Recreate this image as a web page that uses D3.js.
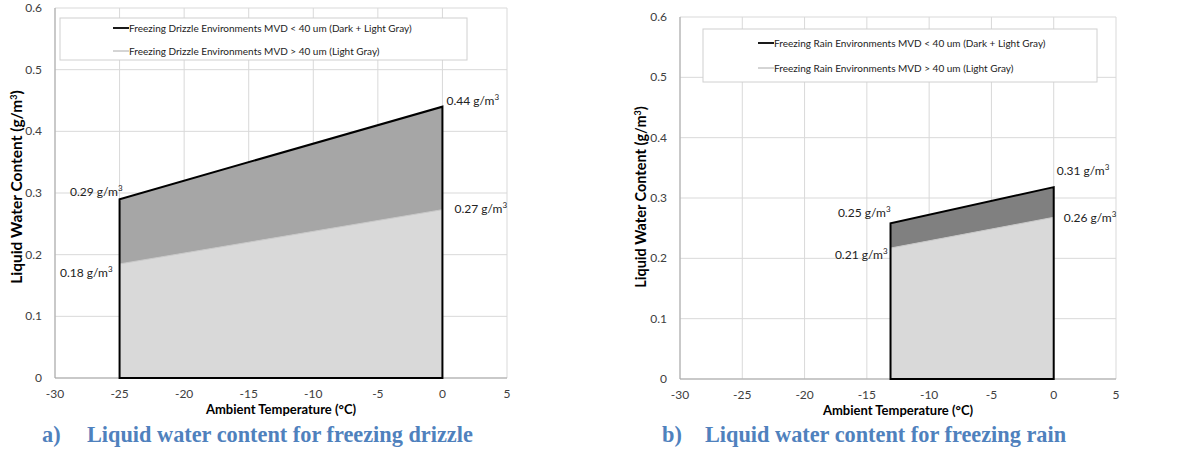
<!DOCTYPE html>
<html>
<head>
<meta charset="utf-8">
<script src="https://cdn.jsdelivr.net/npm/d3@7"></script>
<style>
  body { margin: 0; background: #fff; }
  svg { display: block; }
</style>
</head>
<body>
<div id="chart"></div>
<script>
// Axis ticks (shared by both panels)
var xTicks = [-30, -25, -20, -15, -10, -5, 0, 5];
var yTicks = [0, 0.1, 0.2, 0.3, 0.4, 0.5, 0.6];

// a) freezing drizzle
var drizzleTemp = [-25, 0];
var drizzleTotal = [0.29, 0.44];   // MVD < 40 um (dark + light)
var drizzleLarge = [0.185, 0.273]; // MVD > 40 um (light)
var drizzleLabels = ['0.29', '0.44', '0.18', '0.27'];
var drizzleLegend = ['Freezing Drizzle Environments MVD < 40 um (Dark + Light Gray)',
                     'Freezing Drizzle Environments MVD > 40 um (Light Gray)'];

// b) freezing rain
var rainTemp = [-13.1, 0];
var rainTotal = [0.258, 0.318];
var rainLarge = [0.217, 0.268];
var rainLabels = ['0.25', '0.31', '0.21', '0.26'];
var rainLegend = ['Freezing Rain Environments MVD < 40 um (Dark + Light Gray)',
                  'Freezing Rain Environments MVD > 40 um (Light Gray)'];

var svg = d3.select('#chart').append('svg')
    .attr('width', 1182)
    .attr('height', 449);

var font = 'Lato, "Open Sans", sans-serif';

function drawPanel(p) {
  var x = d3.scaleLinear().domain([-30, 5]).range(p.xRange);
  var y = d3.scaleLinear().domain([0, 0.6]).range(p.yRange);
  var g = svg.append('g');

  // gridlines
  g.selectAll('.vgrid').data(xTicks).enter().append('line')
      .attr('x1', function(d) { return x(d); })
      .attr('x2', function(d) { return x(d); })
      .attr('y1', y(0)).attr('y2', y(0.6))
      .style('stroke', '#d9d9d9').style('stroke-width', 1);
  g.selectAll('.hgrid').data(yTicks).enter().append('line')
      .attr('x1', x(-30)).attr('x2', x(5))
      .attr('y1', function(d) { return y(d); })
      .attr('y2', function(d) { return y(d); })
      .style('stroke', '#d9d9d9').style('stroke-width', 1);
  g.append('line').attr('x1', x(-30)).attr('x2', x(-30))
      .attr('y1', y(0)).attr('y2', y(0.6)).style('stroke', '#a6a6a6');
  g.append('line').attr('x1', x(-30)).attr('x2', x(5))
      .attr('y1', y(0)).attr('y2', y(0)).style('stroke', '#a6a6a6');

  // areas
  var idx = [0, 1];
  var light = d3.area()
      .x(function(i) { return x(p.temp[i]); })
      .y0(y(0))
      .y1(function(i) { return y(p.large[i]); });
  var dark = d3.area()
      .x(function(i) { return x(p.temp[i]); })
      .y0(function(i) { return y(p.large[i]); })
      .y1(function(i) { return y(p.total[i]); });
  g.append('path').attr('d', light(idx)).style('fill', '#d9d9d9');
  g.append('path').attr('d', dark(idx)).style('fill', p.darkFill);
  g.append('path')
      .attr('d', d3.line().x(function(i) { return x(p.temp[i]); })
                          .y(function(i) { return y(p.large[i]); })(idx))
      .style('fill', 'none').style('stroke', '#c8c8c8').style('stroke-width', 1);

  // black outline
  var outline = [[p.temp[0], 0], [p.temp[0], p.total[0]], [p.temp[1], p.total[1]], [p.temp[1], 0]];
  g.append('path')
      .attr('d', d3.line().x(function(d) { return x(d[0]); }).y(function(d) { return y(d[1]); })(outline) + 'Z')
      .style('fill', 'none').style('stroke', '#000').style('stroke-width', 2);

  // tick labels
  g.selectAll('.xt').data(xTicks).enter().append('text')
      .attr('x', function(d) { return x(d); })
      .attr('y', y(0) + 20)
      .attr('text-anchor', 'middle')
      .style('font-family', font).style('font-size', '12px').style('fill', '#404040')
      .text(function(d) { return d; });
  g.selectAll('.yt').data(yTicks).enter().append('text')
      .attr('x', x(-30) - 13)
      .attr('y', function(d) { return y(d) + 4; })
      .attr('text-anchor', 'end')
      .style('font-family', font).style('font-size', '12px').style('fill', '#404040')
      .text(function(d) { return d; });

  // axis titles
  g.append('text')
      .attr('x', p.xTitle[0]).attr('y', p.xTitle[1])
      .attr('text-anchor', 'middle')
      .style('font-family', font).style('font-size', '13px').style('font-weight', 'bold')
      .text('Ambient Temperature (°C)');
  var yt = g.append('text')
      .attr('transform', 'translate(' + p.yTitle[0] + ',' + p.yTitle[1] + ') rotate(-90)')
      .attr('text-anchor', 'middle')
      .style('font-family', font).style('font-size', p.yTitle[2] + 'px').style('font-weight', 'bold');
  yt.append('tspan').text('Liquid Water Content (g/m');
  yt.append('tspan').attr('dy', -5).style('font-size', '9px').text('3');
  yt.append('tspan').attr('dy', 5).text(')');

  // value labels: [temp index, value array, offset]
  var labelPos = [
    [0, p.total, p.labelOff[0]],
    [1, p.total, p.labelOff[1]],
    [0, p.large, p.labelOff[2]],
    [1, p.large, p.labelOff[3]]
  ];
  labelPos.forEach(function(l, k) {
    var t = g.append('text')
        .attr('x', x(p.temp[l[0]]) + l[2][0])
        .attr('y', y(l[1][l[0]]) + l[2][1])
        .attr('text-anchor', l[0] === 0 ? 'end' : 'start')
        .style('font-family', font).style('font-size', '12px').style('fill', '#222');
    t.append('tspan').text(p.labels[k] + ' g/m');
    t.append('tspan').attr('dy', -5).style('font-size', '8px').text('3');
  });

  // legend
  var lg = g.append('g');
  lg.append('rect')
      .attr('x', p.legend[0]).attr('y', p.legend[1])
      .attr('width', p.legend[2]).attr('height', p.legend[3])
      .style('fill', '#fff').style('stroke', '#d0d0d0');
  var rows = [[p.legendText[0], '#000', 1.8], [p.legendText[1], '#aaa', 1]];
  rows.forEach(function(r, k) {
    var ly = p.legend[1] + p.legendRows[k];
    lg.append('line')
        .attr('x1', p.legendX).attr('x2', p.legendX + 16)
        .attr('y1', ly).attr('y2', ly)
        .style('stroke', r[1]).style('stroke-width', r[2]);
    lg.append('text')
        .attr('x', p.legendX + 16).attr('y', ly + 3.5)
        .style('font-family', font).style('font-size', '10px').style('fill', '#222')
        .text(r[0]);
  });

  // caption
  var cap = svg.append('g')
      .style('font-family', '"Liberation Serif", "Times New Roman", serif')
      .style('font-size', '22.3px').style('font-weight', 'bold').style('fill', '#4f81bd');
  cap.append('text').attr('x', p.caption[0]).attr('y', 442).text(p.captionText[0]);
  cap.append('text').attr('x', p.caption[1]).attr('y', 442).text(p.captionText[1]);
}

drawPanel({
  xRange: [55, 507], yRange: [378, 8],
  temp: drizzleTemp, total: drizzleTotal, large: drizzleLarge,
  labels: drizzleLabels, darkFill: '#a6a6a6',
  labelOff: [[3, -3], [4, -2], [-7, 13], [12, 3]],
  xTitle: [281, 414], yTitle: [22, 187, 15.5],
  legend: [60, 18, 407, 42], legendRows: [10, 33], legendX: 113, legendText: drizzleLegend,
  caption: [42, 87], captionText: ['a)', 'Liquid water content for freezing drizzle']
});

drawPanel({
  xRange: [680, 1116], yRange: [379, 17],
  temp: rainTemp, total: rainTotal, large: rainLarge,
  labels: rainLabels, darkFill: '#808080',
  labelOff: [[0, -6], [3, -12], [-3, 11], [10, 5]],
  xTitle: [898, 415], yTitle: [646, 197, 14.5],
  legend: [703, 29, 394, 53], legendRows: [14, 39], legendX: 758, legendText: rainLegend,
  caption: [662, 705], captionText: ['b)', 'Liquid water content for freezing rain']
});
</script>
</body>
</html>
